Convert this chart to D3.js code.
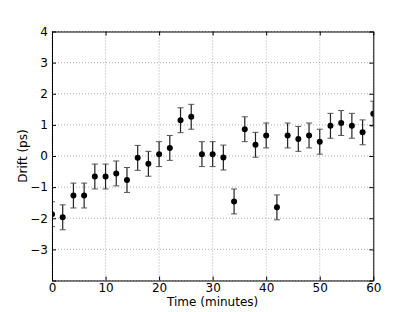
<!DOCTYPE html>
<html>
<head>
<meta charset="utf-8">
<script src="https://cdn.jsdelivr.net/npm/d3@7"></script>
<style>
  body { margin: 0; background: #fff; }
  svg { font-family: "DejaVu Sans", sans-serif; }
</style>
</head>
<body>
<div id="chart"></div>
<script>
// drift measurements, one every 2 minutes
const times = [0, 2, 4, 6, 8, 10, 12, 14, 16, 18, 20, 22, 24, 26, 28, 30,
               32, 34, 36, 38, 40, 42, 44, 46, 48, 50, 52, 54, 56, 58, 60];
const drift = [-1.87, -1.97, -1.27, -1.27, -0.66, -0.66, -0.56, -0.77, -0.06, -0.25,
               0.06, 0.26, 1.15, 1.26, 0.06, 0.06, -0.05, -1.46, 0.86, 0.36,
               0.66, -1.65, 0.66, 0.55, 0.66, 0.46, 0.97, 1.06, 0.97, 0.76, 1.36];
const errs = [0.4, 0.4, 0.4, 0.4, 0.4, 0.4, 0.4, 0.4, 0.4, 0.4,
              0.4, 0.4, 0.4, 0.4, 0.4, 0.4, 0.4, 0.4, 0.4, 0.4,
              0.4, 0.4, 0.4, 0.4, 0.4, 0.4, 0.4, 0.4, 0.4, 0.4, 0.4];
const xTicks = [0, 10, 20, 30, 40, 50, 60];
const yTicks = [-4, -3, -2, -1, 0, 1, 2, 3, 4];
const yLabelled = [-3, -2, -1, 0, 1, 2, 3, 4];

const data = times.map((t, i) => ({ t: t, v: drift[i], e: errs[i] }));

const svgWidth = 415;
const svgHeight = 312;
const margin = { top: 31.5, right: 41.7, bottom: 31.5, left: 52 };
const width = svgWidth - margin.left - margin.right;
const height = svgHeight - margin.top - margin.bottom;

const svg = d3.select('#chart')
    .append('svg')
    .attr('width', svgWidth)
    .attr('height', svgHeight);

svg.append('defs').append('clipPath')
    .attr('id', 'plotclip')
    .append('rect')
    .attr('width', width)
    .attr('height', height);

const g = svg.append('g')
    .attr('transform', `translate(${margin.left},${margin.top})`);

const x = d3.scaleLinear().domain([0, 60]).range([0, width]);
const y = d3.scaleLinear().domain([-4, 4]).range([height, 0]);

// grid
g.append('g')
    .selectAll('line')
    .data(xTicks)
    .enter()
    .append('line')
    .attr('x1', d => x(d)).attr('x2', d => x(d))
    .attr('y1', 0).attr('y2', height)
    .attr('stroke', '#999')
    .attr('stroke-width', 0.8)
    .attr('stroke-dasharray', '1,2');

g.append('g')
    .selectAll('line')
    .data(yTicks)
    .enter()
    .append('line')
    .attr('x1', 0).attr('x2', width)
    .attr('y1', d => y(d)).attr('y2', d => y(d))
    .attr('stroke', '#999')
    .attr('stroke-width', 0.8)
    .attr('stroke-dasharray', '1,2');

// error bars + points
const plot = g.append('g').attr('clip-path', 'url(#plotclip)');

const bars = plot.selectAll('.eb')
    .data(data)
    .enter()
    .append('g')
    .attr('class', 'eb');

bars.append('line')
    .attr('x1', d => x(d.t)).attr('x2', d => x(d.t))
    .attr('y1', d => y(d.v - d.e)).attr('y2', d => y(d.v + d.e))
    .attr('stroke', '#222')
    .attr('stroke-width', 1.2);

bars.append('line')
    .attr('x1', d => x(d.t) - 3).attr('x2', d => x(d.t) + 3)
    .attr('y1', d => y(d.v + d.e)).attr('y2', d => y(d.v + d.e))
    .attr('stroke', '#555')
    .attr('stroke-width', 1);

bars.append('line')
    .attr('x1', d => x(d.t) - 3).attr('x2', d => x(d.t) + 3)
    .attr('y1', d => y(d.v - d.e)).attr('y2', d => y(d.v - d.e))
    .attr('stroke', '#555')
    .attr('stroke-width', 1);

plot.selectAll('circle')
    .data(data)
    .enter()
    .append('circle')
    .attr('cx', d => x(d.t))
    .attr('cy', d => y(d.v))
    .attr('r', 3)
    .attr('fill', '#000');

// axes, ticks inward on all four sides
const xAxis = g.append('g')
    .attr('transform', `translate(0,${height})`)
    .call(d3.axisBottom(x).tickValues(xTicks).tickSizeInner(-4).tickSizeOuter(0).tickPadding(2.5));
const xTop = g.append('g')
    .call(d3.axisTop(x).tickValues(xTicks).tickSizeInner(-4).tickSizeOuter(0).tickFormat(''));
const yAxis = g.append('g')
    .call(d3.axisLeft(y).tickValues(yTicks).tickSizeInner(-4).tickSizeOuter(0).tickPadding(4)
        .tickFormat(d => yLabelled.includes(d) ? d3.format('')(d).replace('-', '\u2212') : ''));
const yRight = g.append('g')
    .attr('transform', `translate(${width},0)`)
    .call(d3.axisRight(y).tickValues(yTicks).tickSizeInner(-4).tickSizeOuter(0).tickFormat(''));

[xAxis, xTop, yAxis, yRight].forEach(a => {
    a.select('.domain').attr('stroke', '#000').attr('stroke-width', 1);
    a.selectAll('.tick line').attr('stroke', '#000');
    a.selectAll('text').attr('fill', '#000').style('font-size', '12px')
        .style('font-family', '"DejaVu Sans", sans-serif');
});

g.append('text')
    .attr('x', width / 2)
    .attr('y', height + 25)
    .attr('text-anchor', 'middle')
    .attr('fill', '#000')
    .style('font-size', '12px')
    .text('Time (minutes)');

g.append('text')
    .attr('transform', `translate(${-25},${height / 2}) rotate(-90)`)
    .attr('text-anchor', 'middle')
    .attr('fill', '#000')
    .style('font-size', '12px')
    .text('Drift (ps)');
</script>
</body>
</html>
